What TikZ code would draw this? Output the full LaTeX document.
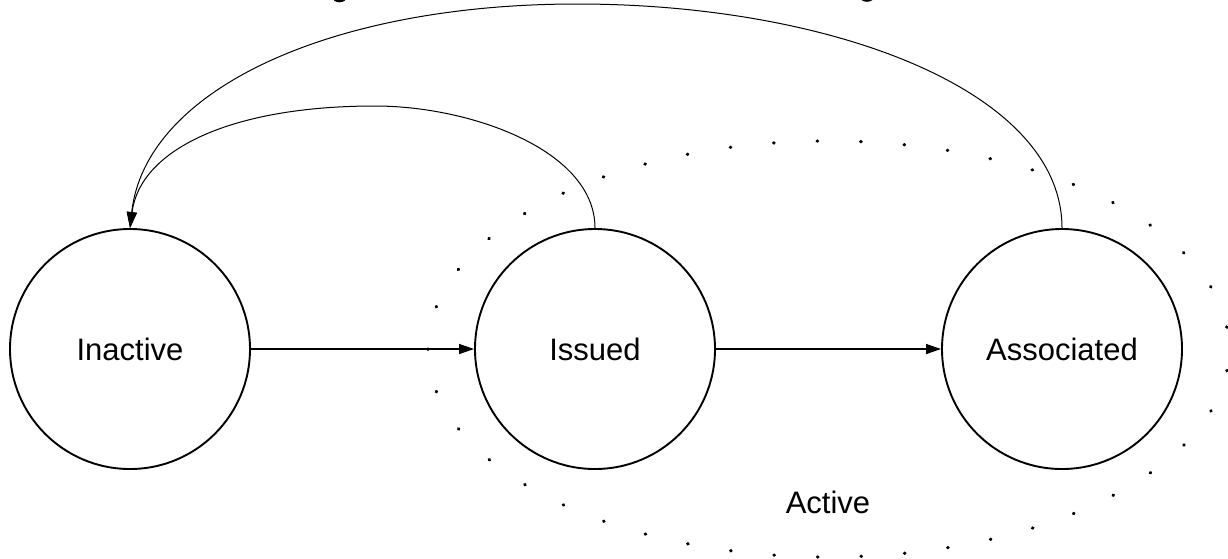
\documentclass[tikz,border=0pt]{standalone}
\usepackage{fontspec}
\setmainfont{Liberation Sans}
\usetikzlibrary{arrows.meta}
\begin{document}
\begin{tikzpicture}[x=1pt,y=-1pt,
  state/.style={circle,draw,line width=1.9pt,minimum size=240pt,inner sep=0pt,
    font=\fontsize{31}{37}\selectfont},
  conn/.style={line width=1.3pt,-{Triangle[length=15pt,width=10pt]}},
  arc/.style={line width=1pt,-{Triangle[length=16pt,width=10pt]}},
  lbl/.style={font=\fontsize{31}{37}\selectfont,inner sep=0pt}]
\useasboundingbox (0,0) rectangle (1228,558);
% remnants of a cut-off title
\draw[line width=2.6pt] (339.5,-3.5) ellipse (6 and 4.5);
\draw[line width=2.6pt] (867,-4) ellipse (6 and 4.5);
% dotted "Active" region
\draw[line width=3.2pt,line cap=round,dash pattern=on 0.6pt off 42.95pt,dash phase=22.1pt]
  (828.5,349) ellipse (400.5 and 208);
\node[lbl] (active) at (828,502) {Active};
% states
\node[state] (inactive) at (130,349) {Inactive};
\node[state] (issued) at (595,349) {Issued};
\node[state] (associated) at (1062,349) {Associated};
% transitions
\draw[conn] (inactive) -- (issued);
\draw[conn] (issued) -- (associated);
\draw[arc] (issued.north) .. controls (595,150) and (470,106) .. (375,106)
  .. controls (230,106) and (140,150) .. (inactive.north);
\draw[arc] (associated.north) .. controls (1062,90) and (830,4) .. (577,4)
  .. controls (330,4) and (145,90) .. (inactive.north);
\end{tikzpicture}
\end{document}
